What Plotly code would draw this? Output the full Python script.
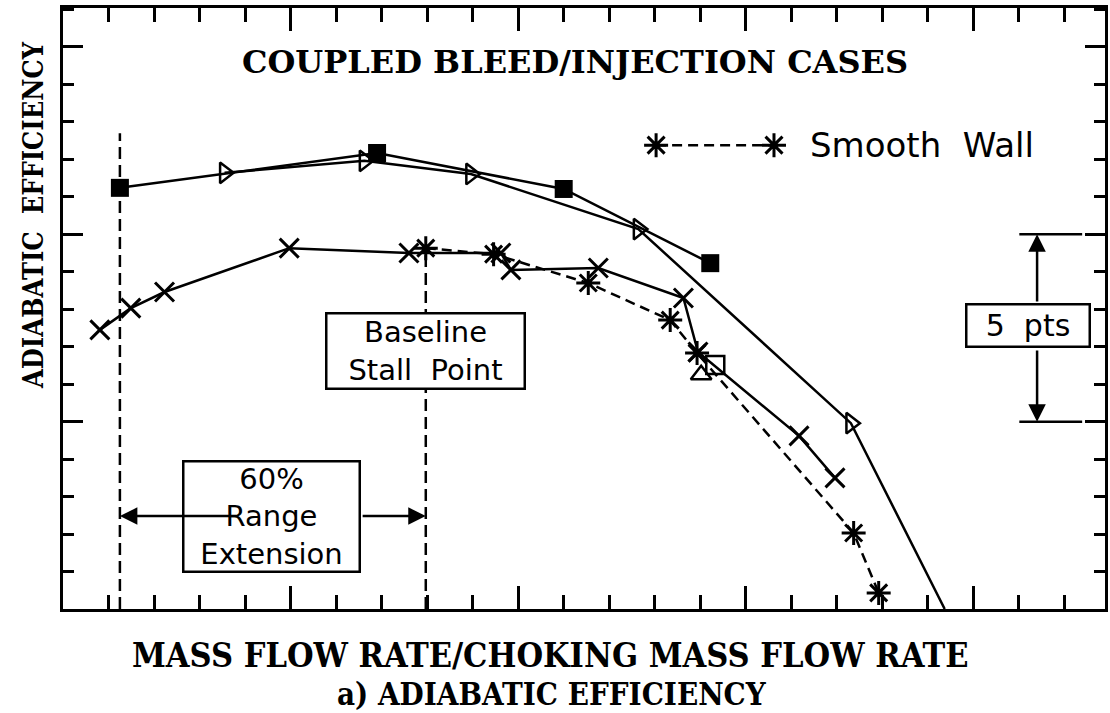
import plotly.graph_objects as go

# ---- data (mass flow ratio, efficiency points) ----
sq_x = [0.7125, 0.7690, 0.8100, 0.8422]
sq_y = [85.24, 86.17, 85.21, 83.23]

tri_x = [0.7355, 0.7662, 0.7896, 0.8264, 0.8731, 0.8937]
tri_y = [85.64, 85.96, 85.61, 84.14, 78.96, 74.0]

xs_x = [0.7081, 0.7149, 0.7223, 0.7497, 0.7760, 0.7962, 0.7984, 0.8176, 0.8363, 0.8395, 0.8617, 0.8696]
xs_y = [81.45, 82.03, 82.46, 83.63, 83.50, 83.50, 83.05, 83.10, 82.30, 80.86, 78.62, 77.50]

sw_x = [0.7797, 0.7946, 0.8154, 0.8334, 0.8393, 0.8737, 0.8792]
sw_y = [83.63, 83.47, 82.70, 81.71, 80.83, 76.03, 74.43]

osq_x = [0.8433]
osq_y = [80.51]
otri_x = [0.8402]
otri_y = [80.25]

stall_x = 0.7125
stall_top = 86.70
base_x = 0.7797
base_top = 83.63

XR = [0.70, 0.92892]
YR = [74.0, 90.04]

fig = go.Figure()
blk = "black"
LW = 2.5

fig.add_trace(go.Scatter(x=sq_x, y=sq_y, mode="lines+markers",
                         line=dict(color=blk, width=LW),
                         marker=dict(symbol="square", size=18, color=blk)))
fig.add_trace(go.Scatter(x=tri_x, y=tri_y, mode="lines",
                         line=dict(color=blk, width=LW)))
fig.add_trace(go.Scatter(x=tri_x[:-1], y=tri_y[:-1], mode="markers",
                         marker=dict(symbol="triangle-right-open", size=18, color=blk,
                                     line=dict(width=2.5, color=blk))))
fig.add_trace(go.Scatter(x=xs_x, y=xs_y, mode="lines+markers",
                         line=dict(color=blk, width=LW),
                         marker=dict(symbol="x-thin-open", size=19, color=blk,
                                     line=dict(width=3, color=blk))))
fig.add_trace(go.Scatter(x=sw_x, y=sw_y, mode="lines+markers",
                         line=dict(color=blk, width=LW, dash="10px,6px"),
                         marker=dict(symbol="asterisk-open", size=20, color=blk,
                                     line=dict(width=3, color=blk))))
fig.add_trace(go.Scatter(x=osq_x, y=osq_y, mode="markers",
                         marker=dict(symbol="square-open", size=18, color=blk,
                                     line=dict(width=2.5, color=blk))))
fig.add_trace(go.Scatter(x=otri_x, y=otri_y, mode="markers",
                         marker=dict(symbol="triangle-up-open", size=18, color=blk,
                                     line=dict(width=2.5, color=blk))))

# legend sample (Smooth Wall)
leg_x = [0.8303, 0.8562]
leg_y = [86.38, 86.38]
fig.add_trace(go.Scatter(x=leg_x, y=leg_y, mode="lines+markers",
                         line=dict(color=blk, width=LW, dash="10px,6px"),
                         marker=dict(symbol="asterisk-open", size=20, color=blk,
                                     line=dict(width=3, color=blk))))

shapes = []
# stall-line verticals
shapes.append(dict(type="line", x0=stall_x, x1=stall_x, y0=YR[0], y1=stall_top,
                   line=dict(color=blk, width=2.5, dash="12px,6px")))
shapes.append(dict(type="line", x0=base_x, x1=base_x, y0=YR[0], y1=base_top,
                   line=dict(color=blk, width=2.5, dash="12px,6px")))
# 5 pts guides
for yy in (84.0, 79.0):
    shapes.append(dict(type="line", x0=0.9101, x1=0.9239, y0=yy, y1=yy,
                       line=dict(color=blk, width=2.5)))

ann = []
sans = "DejaVu Sans"
serifb = "DejaVu Serif"
cond = "DejaVu Serif Condensed"


def px(xp):
    return (xp - 63) / 1045


def py(yp):
    return (609 - yp) / 601


ann.append(dict(x=px(576), y=py(62), xref="paper", yref="paper",
                xanchor="center", yanchor="middle",
                text="<b>COUPLED BLEED/INJECTION CASES</b>", showarrow=False,
                font=dict(family=serifb, size=32, color=blk)))
ann.append(dict(x=0.8636, y=86.38, xref="x", yref="y", xanchor="left", yanchor="middle",
                text="Smooth  Wall", showarrow=False,
                font=dict(family=sans, size=34, color=blk)))
ann.append(dict(x=base_x, y=80.89, xref="x", yref="y",
                text="Baseline<br>Stall  Point", showarrow=False,
                width=196, height=73, borderpad=0, bgcolor="white",
                bordercolor=blk, borderwidth=2.5,
                font=dict(family=sans, size=29, color=blk)))
ann.append(dict(x=0.7457, y=76.48, xref="x", yref="y",
                text="60%<br>Range<br>Extension", showarrow=False,
                width=174, height=108, borderpad=0, bgcolor="white",
                bordercolor=blk, borderwidth=2.5,
                font=dict(family=sans, size=29, color=blk)))
ann.append(dict(x=0.9121, y=81.56, xref="x", yref="y",
                text="5  pts", showarrow=False,
                width=121, height=40, borderpad=0, bgcolor="white",
                bordercolor=blk, borderwidth=2.5,
                font=dict(family=sans, size=30, color=blk)))
# arrows
arrows = [((0.7384, 76.48), (stall_x, 76.48)),
          ((0.7655, 76.48), (base_x, 76.48)),
          ((0.9140, 82.17), (0.9140, 84.0)),
          ((0.9140, 80.94), (0.9140, 79.0))]
for (sx, sy), (ex, ey) in arrows:
    ann.append(dict(x=ex, y=ey, ax=sx, ay=sy, xref="x", yref="y", axref="x", ayref="y",
                    text="", showarrow=True, arrowhead=2, arrowsize=1.4,
                    arrowwidth=2.5, arrowcolor=blk, standoff=0, startstandoff=0))
# axis titles
ann.append(dict(x=px(552), y=py(655), xref="paper", yref="paper",
                xanchor="center", yanchor="middle",
                text="<b>MASS FLOW RATE/CHOKING MASS FLOW RATE</b>", showarrow=False,
                font=dict(family=cond, size=34, color=blk)))
ann.append(dict(x=px(553), y=py(694), xref="paper", yref="paper",
                xanchor="center", yanchor="middle",
                text="<b>a) ADIABATIC EFFICIENCY</b>", showarrow=False,
                font=dict(family=cond, size=31, color=blk)))
ann.append(dict(x=px(33), y=py(215), xref="paper", yref="paper",
                xanchor="center", yanchor="middle",
                text="<b>ADIABATIC  EFFICIENCY</b>", showarrow=False, textangle=-90,
                font=dict(family=cond, size=27, color=blk)))

fig.update_layout(
    width=1110, height=713,
    margin=dict(l=63, r=2, t=8, b=104),
    paper_bgcolor="white", plot_bgcolor="white",
    showlegend=False,
    shapes=shapes, annotations=ann,
)
fig.update_xaxes(range=XR, showgrid=False, zeroline=False, showticklabels=False,
                 showline=True, linewidth=3, linecolor=blk, mirror="allticks",
                 ticks="inside", tick0=0.70, dtick=0.05, ticklen=23, tickwidth=3, tickcolor=blk,
                 minor=dict(ticks="inside", dtick=0.01, tick0=0.70, ticklen=14, tickwidth=3,
                            tickcolor=blk, showgrid=False))
fig.update_yaxes(range=YR, showgrid=False, zeroline=False, showticklabels=False,
                 showline=True, linewidth=3, linecolor=blk, mirror="allticks",
                 ticks="inside", tick0=74, dtick=5, ticklen=20, tickwidth=3, tickcolor=blk,
                 minor=dict(ticks="inside", dtick=1, tick0=74, ticklen=11, tickwidth=3,
                            tickcolor=blk, showgrid=False))

fig.write_html("out.html", config={"displayModeBar": False},
               post_script="document.body.style.margin='0';document.body.style.overflow='hidden';")
